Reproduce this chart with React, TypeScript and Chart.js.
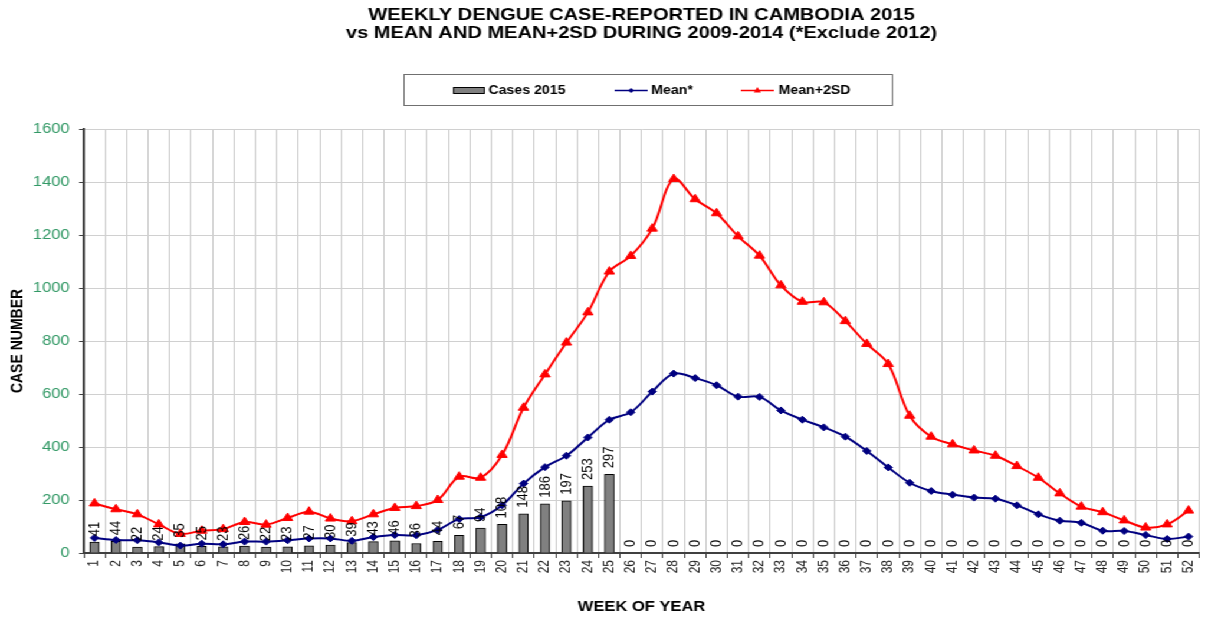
import React, { useEffect, useRef } from 'react';
import { Chart, registerables } from 'chart.js';

Chart.register(...registerables);

// ---------- data ----------
const weekLabels = [
  '1', '2', '3', '4', '5', '6', '7', '8', '9', '10',
  '11', '12', '13', '14', '15', '16', '17', '18', '19', '20',
  '21', '22', '23', '24', '25', '26', '27', '28', '29', '30',
  '31', '32', '33', '34', '35', '36', '37', '38', '39', '40',
  '41', '42', '43', '44', '45', '46', '47', '48', '49', '50',
  '51', '52',
];

const cases2015 = [
  41, 44, 22, 24, 35, 25, 23, 26, 22, 23,
  27, 30, 39, 43, 46, 36, 44, 67, 94, 108,
  148, 186, 197, 253, 297, 0, 0, 0, 0, 0,
  0, 0, 0, 0, 0, 0, 0, 0, 0, 0,
  0, 0, 0, 0, 0, 0, 0, 0, 0, 0,
  0, 0,
];

const meanValues = [
  57, 49, 48, 40, 28, 35, 33, 43, 43, 48,
  55, 55, 46, 60, 68, 67, 87, 128, 135, 180,
  262, 324, 367, 436, 503, 531, 609, 677, 660, 633,
  590, 589, 538, 503, 474, 439, 385, 323, 265, 234,
  220, 209, 205, 180, 146, 122, 114, 84, 83, 68,
  53, 62,
];

const meanPlus2SD = [
  187, 165, 146, 108, 72, 84, 90, 117, 107, 132,
  156, 130, 120, 146, 170, 177, 200, 288, 284, 370,
  548, 674, 794, 908, 1062, 1121, 1224, 1411, 1335, 1282,
  1195, 1122, 1010, 948, 946, 875, 789, 713, 518, 439,
  410, 387, 367, 328, 284, 225, 175, 154, 123, 96,
  108, 160,
];

const seriesNames = ['Cases 2015', 'Mean*', 'Mean+2SD'];
const titleLines = [
  'WEEKLY DENGUE CASE-REPORTED IN CAMBODIA 2015',
  'vs MEAN AND MEAN+2SD DURING 2009-2014 (*Exclude 2012)',
];
const yTitle = 'CASE NUMBER';
const xTitle = 'WEEK OF YEAR';
const yMin = 0;
const yMax = 1600;
const yStep = 200;

// ---------- styles ----------
const FONT = "'Liberation Sans', Arial, Helvetica, sans-serif";
const CANVAS_W = 1024;
const CANVAS_H = 620;
const STRETCH = 1208 / CANVAS_W;
const BAR_COLOR = '#808080';
const MEAN_COLOR = '#000080';
const SD_COLOR = '#FF0000';

const barLabelPlugin = {
  id: 'barLabels',
  afterDatasetsDraw(chart: any) {
    const meta = chart.getDatasetMeta(0);
    const values = chart.data.datasets[0].data;
    const ctx = chart.ctx;
    ctx.save();
    ctx.font = `13px ${FONT}`;
    ctx.fillStyle = '#000';
    ctx.textAlign = 'left';
    ctx.textBaseline = 'middle';
    meta.data.forEach((el: any, i: number) => {
      ctx.save();
      ctx.translate(el.x, el.y - 6);
      ctx.rotate(-Math.PI / 2);
      ctx.fillText(String(values[i]), 0, 0);
      ctx.restore();
    });
    ctx.restore();
  },
};

const boxLegendPlugin = {
  id: 'boxLegend',
  afterDraw(chart: any) {
    const ctx = chart.ctx;
    const ds = chart.data.datasets;
    ctx.save();
    // frame
    ctx.strokeStyle = '#707070';
    ctx.lineWidth = 1;
    ctx.strokeRect(342.5, 74.5, 414, 31);
    const cy = 90.5;
    ctx.font = `bold 12px ${FONT}`;
    ctx.fillStyle = '#000';
    ctx.textAlign = 'left';
    ctx.textBaseline = 'middle';

    // bar swatch
    ctx.fillStyle = ds[0].backgroundColor;
    ctx.fillRect(384, 87.5, 27, 6);
    ctx.strokeStyle = ds[0].borderColor;
    ctx.strokeRect(384.5, 87.5, 26, 6);
    ctx.fillStyle = '#000';
    ctx.fillText(ds[0].label, 414, cy);

    // mean line swatch
    ctx.strokeStyle = ds[1].borderColor;
    ctx.lineWidth = 1.5;
    ctx.beginPath();
    ctx.moveTo(521, cy);
    ctx.lineTo(549, cy);
    ctx.stroke();
    ctx.fillStyle = ds[1].borderColor;
    ctx.beginPath();
    ctx.moveTo(535 - 2.5, cy);
    ctx.lineTo(535, cy - 2.5);
    ctx.lineTo(535 + 2.5, cy);
    ctx.lineTo(535, cy + 2.5);
    ctx.closePath();
    ctx.fill();
    ctx.fillStyle = '#000';
    ctx.fillText(ds[1].label, 552, cy);

    // mean+2sd line swatch
    ctx.strokeStyle = ds[2].borderColor;
    ctx.beginPath();
    ctx.moveTo(628, cy);
    ctx.lineTo(656, cy);
    ctx.stroke();
    ctx.fillStyle = ds[2].borderColor;
    ctx.beginPath();
    ctx.moveTo(642, cy - 3.5);
    ctx.lineTo(645, cy + 2);
    ctx.lineTo(639, cy + 2);
    ctx.closePath();
    ctx.fill();
    ctx.fillStyle = '#000';
    ctx.fillText(ds[2].label, 660, cy);
    ctx.restore();
  },
};

export default function App() {
  const canvasRef = useRef<HTMLCanvasElement>(null);

  useEffect(() => {
    if (!canvasRef.current) return;
    const chart = new Chart(canvasRef.current, {
      type: 'bar',
      data: {
        labels: weekLabels,
        datasets: [
          {
            type: 'bar',
            label: seriesNames[0],
            data: cases2015,
            backgroundColor: BAR_COLOR,
            borderColor: '#000000',
            borderWidth: 1,
            barThickness: 8,
            order: 3,
          } as any,
          {
            type: 'line',
            label: seriesNames[1],
            data: meanValues,
            borderColor: MEAN_COLOR,
            backgroundColor: MEAN_COLOR,
            borderWidth: 2,
            pointStyle: 'rectRot',
            pointRadius: 3.5,
            pointBorderWidth: 1,
            pointBackgroundColor: MEAN_COLOR,
            pointBorderColor: MEAN_COLOR,
            tension: 0.35,
            fill: false,
            order: 1,
          },
          {
            type: 'line',
            label: seriesNames[2],
            data: meanPlus2SD,
            borderColor: SD_COLOR,
            backgroundColor: SD_COLOR,
            borderWidth: 2,
            pointStyle: 'triangle',
            pointRadius: 5,
            pointBorderWidth: 1,
            pointBackgroundColor: SD_COLOR,
            pointBorderColor: SD_COLOR,
            tension: 0.35,
            fill: false,
            order: 2,
          },
        ],
      },
      options: {
        responsive: false,
        animation: false,
        events: [],
        layout: { padding: { left: 0, right: 2, top: 0, bottom: 0 } },
        plugins: {
          legend: { display: false },
          tooltip: { enabled: false },
          title: {
            display: true,
            text: titleLines,
            fullSize: false,
            color: '#000',
            font: { family: FONT, size: 17, weight: 'bold', lineHeight: 18 / 17 },
            padding: { top: 6, bottom: 87 },
          },
        },
        scales: {
          x: {
            offset: true,
            grid: {
              offset: true,
              color: '#c8c8c8',
              lineWidth: 1,
              tickColor: '#404040',
              tickLength: 5,
            },
            border: { color: '#404040', width: 2 },
            ticks: {
              autoSkip: false,
              minRotation: 90,
              maxRotation: 90,
              padding: 2,
              color: '#222',
              font: { family: FONT, size: 12 },
            },
            title: {
              display: true,
              text: xTitle,
              color: '#000',
              font: { family: FONT, size: 14, weight: 'bold' },
              padding: { top: 0, bottom: 4 },
            },
            afterFit(scale: any) {
              scale.height = 67;
            },
          },
          y: {
            min: yMin,
            max: yMax,
            ticks: {
              stepSize: yStep,
              color: '#339966',
              padding: 8,
              font: { family: FONT, size: 14 },
              callback: (value: any) => String(value),
            },
            grid: {
              color: '#d0d0d0',
              lineWidth: 1,
              tickColor: '#404040',
              tickLength: 4,
            },
            border: { color: '#404040', width: 2 },
            title: {
              display: true,
              text: yTitle,
              color: '#000',
              font: { family: FONT, size: 14, weight: 'bold' },
              padding: { top: 7, bottom: 0 },
            },
            afterFit(scale: any) {
              scale.width = 71;
            },
          },
        },
      } as any,
      plugins: [barLabelPlugin, boxLegendPlugin],
    });
    return () => chart.destroy();
  }, []);

  return (
    <div
      style={{
        position: 'fixed',
        left: 0,
        top: 0,
        width: CANVAS_W,
        height: CANVAS_H,
        background: '#ffffff',
        transform: `scaleX(${STRETCH})`,
        transformOrigin: '0 0',
      }}
    >
      <canvas
        ref={canvasRef}
        width={CANVAS_W}
        height={CANVAS_H}
        style={{ display: 'block', width: CANVAS_W, height: CANVAS_H }}
      />
    </div>
  );
}
